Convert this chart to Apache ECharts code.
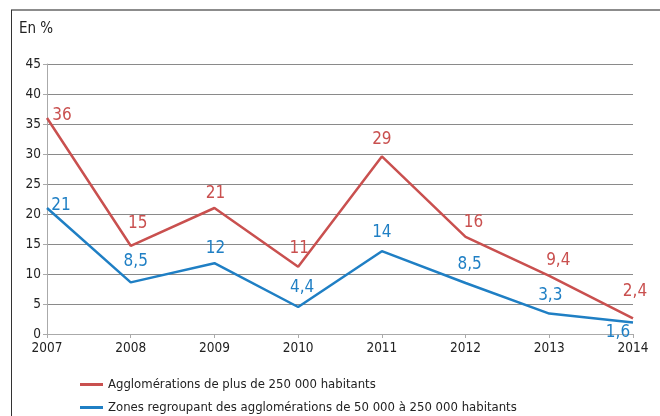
<!DOCTYPE html>
<html>
<head>
<meta charset="utf-8">
<script src="https://cdn.jsdelivr.net/npm/echarts@6/dist/echarts.min.js"></script>
<style>
html,body{margin:0;padding:0;background:#fff;}
#chart{width:660px;height:416px;}
</style>
</head>
<body>
<div id="chart"></div>
<script>
var years = ['2007', '2008', '2009', '2010', '2011', '2012', '2013', '2014'];
var bigCities = [36, 14.7, 21, 11.2, 29.6, 16.2, 9.7, 2.6];
var bigLabels = ['36', '15', '21', '11', '29', '16', '9,4', '2,4'];
var midCities = [21, 8.6, 11.8, 4.5, 13.8, 8.5, 3.4, 1.9];
var midLabels = ['21', '8,5', '12', '4,4', '14', '8,5', '3,3', '1,6'];
var yTicks = [0, 5, 10, 15, 20, 25, 30, 35, 40, 45];
var seriesNames = ['Agglomérations de plus de 250 000 habitants',
    'Zones regroupant des agglomérations de 50 000 à 250 000 habitants'];

var font = '"Liberation Sans Narrow", "DejaVu Sans Condensed", sans-serif';
var red = '#c9504f';
var blue = '#1f7fc4';

// label offsets per point (x, y), chosen to sit like the reference
var bigOff = [[15, 12], [7, -8], [1, 0], [1, -4], [0, -2], [8, 0], [9, -1], [2, -12]];
var midOff = [[14, 12], [5, -6], [1, 0], [4, -5], [0, -4], [4, -4], [1, -4], [-15, 24]];

function pts(vals, labels, offs) {
    var out = [];
    for (var i = 0; i < vals.length; i++) {
        out.push({
            value: vals[i],
            label: {formatter: labels[i], offset: offs[i]}
        });
    }
    return out;
}

function legendItem(name, top) {
    return {
        left: 75, top: top,
        itemWidth: 23, itemHeight: 3,
        icon: 'rect',
        textStyle: {fontFamily: font, fontSize: 13, color: '#222', padding: [0, 0, 0, 0]},
        data: [name]
    };
}

var myChart = echarts.init(document.getElementById('chart'));
var option = {
    animation: false,
    textStyle: {fontFamily: font},
    title: {
        text: 'En %',
        left: 14, top: 17,
        textStyle: {fontFamily: font, fontSize: 15, fontWeight: 'normal', color: '#222'}
    },
    graphic: [
        {type: 'line', shape: {x1: 11, y1: 10, x2: 660, y2: 10}, style: {stroke: '#8c8c8c', lineWidth: 2}},
        {type: 'line', shape: {x1: 11.5, y1: 10, x2: 11.5, y2: 416}, style: {stroke: '#333', lineWidth: 1}}
    ],
    grid: {left: 47, right: 27, top: 64, bottom: 82},
    legend: [legendItem(seriesNames[0], 373), legendItem(seriesNames[1], 396)],
    xAxis: {
        type: 'category',
        data: years,
        boundaryGap: false,
        axisLine: {lineStyle: {color: '#aaa'}},
        axisTick: {show: true, length: 4, lineStyle: {color: '#aaa'}},
        axisLabel: {color: '#222', fontSize: 13.5, fontFamily: font, margin: 7}
    },
    yAxis: {
        type: 'value',
        min: 0, max: 45, interval: 5,
        axisLine: {show: true, lineStyle: {color: '#aaa'}},
        axisTick: {show: true, length: 4, lineStyle: {color: '#aaa'}},
        axisLabel: {color: '#222', fontSize: 13.5, fontFamily: font, margin: 6,
            formatter: function (v) { return yTicks.indexOf(v) >= 0 ? String(v) : ''; }},
        splitLine: {lineStyle: {color: '#8a8a8a', width: 1}}
    },
    series: [
        {
            name: seriesNames[0],
            type: 'line',
            data: pts(bigCities, bigLabels, bigOff),
            color: red,
            lineStyle: {width: 2.5, color: red},
            symbol: 'circle', symbolSize: 0.01, showSymbol: true,
            label: {show: true, position: 'top', distance: 6, color: red, fontSize: 17, fontFamily: font}
        },
        {
            name: seriesNames[1],
            type: 'line',
            data: pts(midCities, midLabels, midOff),
            color: blue,
            lineStyle: {width: 2.5, color: blue},
            symbol: 'circle', symbolSize: 0.01, showSymbol: true,
            label: {show: true, position: 'top', distance: 6, color: blue, fontSize: 17, fontFamily: font}
        }
    ]
};
myChart.setOption(option);
</script>
</body>
</html>
